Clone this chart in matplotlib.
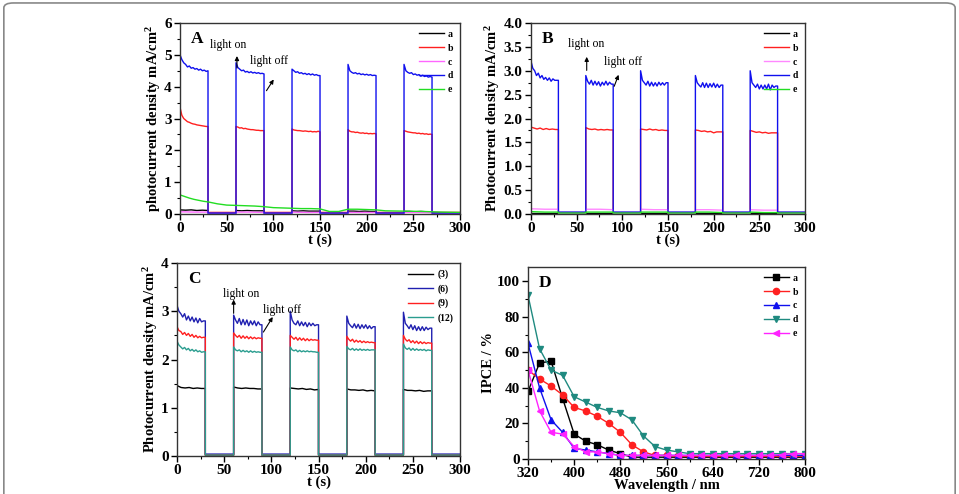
import numpy as np
import matplotlib
matplotlib.use("Agg")
import matplotlib.pyplot as plt
from matplotlib.ticker import AutoMinorLocator, FormatStrFormatter
from matplotlib.patches import FancyBboxPatch

plt.rcParams['font.family'] = ['Liberation Serif', 'DejaVu Serif']
plt.rcParams['font.weight'] = 'bold'
plt.rcParams['mathtext.default'] = 'regular'

# light on at 0, 60, 120, 180, 240 s; each on period lasts 30 s
cycle_starts = [0, 60, 120, 180, 240]
time_ticks = [0, 50, 100, 150, 200, 250, 300]

# ---- panel A (photocurrent, mA/cm2) ----
A_d = [[5.0, 4.85, 4.75, 4.7, 4.62, 4.65, 4.58, 4.6, 4.55, 4.57, 4.52, 4.55, 4.5, 4.52, 4.48, 4.5],
       [4.75, 4.6, 4.55, 4.5, 4.52, 4.46, 4.48, 4.44, 4.47, 4.43, 4.45, 4.42, 4.44, 4.41, 4.42, 4.4],
       [4.55, 4.5, 4.45, 4.47, 4.42, 4.44, 4.4, 4.42, 4.38, 4.41, 4.37, 4.4, 4.36, 4.38, 4.35, 4.35],
       [4.7, 4.5, 4.45, 4.42, 4.44, 4.4, 4.42, 4.38, 4.4, 4.37, 4.39, 4.36, 4.38, 4.35, 4.36, 4.35],
       [4.7, 4.5, 4.45, 4.42, 4.44, 4.38, 4.4, 4.36, 4.38, 4.33, 4.36, 4.32, 4.34, 4.3, 4.32, 4.3]]
A_b = [[3.35, 3.1, 3.0, 2.95, 2.9, 2.88, 2.85, 2.83, 2.82, 2.8, 2.79, 2.78, 2.77, 2.76, 2.75, 2.75],
       [2.75, 2.73, 2.7, 2.71, 2.68, 2.69, 2.67, 2.66, 2.65, 2.65, 2.64, 2.63, 2.63, 2.62, 2.62, 2.62],
       [2.67, 2.64, 2.63, 2.62, 2.62, 2.61, 2.6, 2.61, 2.6, 2.59, 2.6, 2.58, 2.59, 2.58, 2.6, 2.58],
       [2.65, 2.6, 2.58, 2.58, 2.56, 2.57, 2.55, 2.54, 2.55, 2.53, 2.54, 2.52, 2.53, 2.52, 2.53, 2.52],
       [2.62, 2.6, 2.58, 2.57, 2.56, 2.55, 2.55, 2.53, 2.54, 2.52, 2.53, 2.51, 2.52, 2.5, 2.51, 2.5]]
A_a = [[0.13, 0.12, 0.13, 0.11, 0.12, 0.11],
       [0.11, 0.1, 0.11, 0.1, 0.1, 0.1],
       [0.1, 0.09, 0.1, 0.09, 0.09, 0.09],
       [0.09, 0.09, 0.08, 0.09, 0.08, 0.08],
       [0.08, 0.08, 0.07, 0.08, 0.07, 0.07]]
A_c = [[0.07, 0.06, 0.06], [0.06, 0.06, 0.05], [0.06, 0.05, 0.05],
       [0.05, 0.05, 0.05], [0.05, 0.05, 0.04]]
A_off = {'a': 0.03, 'b': 0.05, 'c': 0.02, 'd': 0.03}
A_e_t = [0, 2, 5, 10, 15, 20, 25, 30, 35, 40, 50, 60, 70, 80, 90, 100, 110, 120, 130,
         140, 150, 155, 160, 170, 180, 190, 200, 210, 220, 240, 260, 280, 300]
A_e_y = [0.6, 0.58, 0.55, 0.5, 0.46, 0.43, 0.4, 0.38, 0.35, 0.32, 0.28, 0.27, 0.26, 0.25,
         0.23, 0.2, 0.19, 0.18, 0.17, 0.17, 0.16, 0.12, 0.08, 0.08, 0.15, 0.15, 0.14, 0.13,
         0.1, 0.09, 0.08, 0.06, 0.05]

# ---- panel B ----
B_d = [[3.2, 3.05, 3.0, 2.9, 2.95, 2.85, 2.9, 2.82, 2.86, 2.8, 2.85, 2.78, 2.83, 2.8, 2.8, 2.8],
       [2.9, 2.78, 2.72, 2.8, 2.7, 2.78, 2.7, 2.77, 2.68, 2.76, 2.7, 2.78, 2.7, 2.76, 2.72, 2.72],
       [3.0, 2.8, 2.75, 2.7, 2.78, 2.68, 2.76, 2.68, 2.75, 2.68, 2.76, 2.7, 2.75, 2.7, 2.75, 2.75],
       [2.9, 2.75, 2.7, 2.66, 2.75, 2.65, 2.74, 2.65, 2.73, 2.66, 2.74, 2.65, 2.72, 2.65, 2.7, 2.7],
       [3.0, 2.75, 2.7, 2.65, 2.72, 2.62, 2.7, 2.62, 2.7, 2.62, 2.72, 2.6, 2.7, 2.65, 2.68, 2.68]]
B_b = [[1.82, 1.8, 1.78, 1.8, 1.77, 1.79, 1.77, 1.78, 1.77, 1.77],
       [1.81, 1.78, 1.77, 1.78, 1.76, 1.77, 1.76, 1.77, 1.76, 1.76],
       [1.78, 1.77, 1.76, 1.78, 1.76, 1.77, 1.75, 1.76, 1.75, 1.75],
       [1.76, 1.75, 1.73, 1.74, 1.72, 1.73, 1.7, 1.72, 1.72, 1.72],
       [1.75, 1.73, 1.71, 1.72, 1.7, 1.71, 1.69, 1.7, 1.7, 1.7]]
B_c = [[0.11, 0.1, 0.1], [0.1, 0.1, 0.09], [0.1, 0.09, 0.09], [0.09, 0.09, 0.08], [0.09, 0.08, 0.08]]
B_e = [[0.05, 0.04, 0.04], [0.04, 0.04, 0.04], [0.04, 0.04, 0.04], [0.04, 0.04, 0.03], [0.04, 0.03, 0.03]]
B_a = [[0.02, 0.02], [0.02, 0.02], [0.02, 0.02], [0.02, 0.02], [0.02, 0.02]]
B_off = {'a': 0.01, 'b': 0.03, 'c': 0.02, 'd': 0.04, 'e': 0.02}

# ---- panel C (different deposition cycles) ----
C_6 = [[3.12, 3.0, 2.95, 2.88, 2.95, 2.82, 2.9, 2.8, 2.88, 2.78, 2.86, 2.76, 2.85, 2.78, 2.8, 2.8],
       [2.92, 2.82, 2.75, 2.85, 2.72, 2.83, 2.72, 2.82, 2.7, 2.8, 2.72, 2.8, 2.7, 2.78, 2.72, 2.72],
       [3.0, 2.82, 2.75, 2.72, 2.8, 2.7, 2.78, 2.7, 2.77, 2.68, 2.76, 2.7, 2.75, 2.7, 2.72, 2.72],
       [2.9, 2.75, 2.7, 2.66, 2.74, 2.65, 2.73, 2.64, 2.72, 2.65, 2.72, 2.64, 2.7, 2.64, 2.68, 2.68],
       [2.98, 2.75, 2.7, 2.64, 2.72, 2.62, 2.7, 2.6, 2.68, 2.6, 2.68, 2.6, 2.67, 2.62, 2.65, 2.65]]
C_9 = [[2.68, 2.6, 2.58, 2.52, 2.56, 2.5, 2.54, 2.48, 2.52, 2.46, 2.5, 2.45, 2.48, 2.45, 2.46, 2.46],
       [2.55, 2.5, 2.46, 2.5, 2.44, 2.49, 2.44, 2.48, 2.43, 2.47, 2.43, 2.46, 2.43, 2.45, 2.44, 2.44],
       [2.5, 2.46, 2.42, 2.46, 2.4, 2.45, 2.4, 2.44, 2.39, 2.43, 2.39, 2.42, 2.4, 2.41, 2.4, 2.4],
       [2.48, 2.42, 2.38, 2.42, 2.36, 2.4, 2.36, 2.39, 2.35, 2.38, 2.35, 2.37, 2.35, 2.36, 2.35, 2.35],
       [2.5, 2.42, 2.38, 2.41, 2.35, 2.39, 2.34, 2.38, 2.33, 2.37, 2.33, 2.36, 2.33, 2.35, 2.34, 2.34]]
C_12 = [[2.38, 2.3, 2.26, 2.22, 2.25, 2.2, 2.23, 2.18, 2.21, 2.17, 2.2, 2.16, 2.18, 2.15, 2.16, 2.16],
        [2.26, 2.2, 2.18, 2.2, 2.16, 2.19, 2.16, 2.18, 2.15, 2.18, 2.15, 2.17, 2.15, 2.16, 2.15, 2.15],
        [2.26, 2.2, 2.18, 2.2, 2.16, 2.19, 2.16, 2.18, 2.16, 2.18, 2.16, 2.17, 2.16, 2.16, 2.15, 2.15],
        [2.27, 2.22, 2.2, 2.23, 2.19, 2.22, 2.19, 2.22, 2.19, 2.21, 2.19, 2.21, 2.19, 2.2, 2.2, 2.2],
        [2.32, 2.24, 2.21, 2.24, 2.19, 2.23, 2.19, 2.22, 2.19, 2.21, 2.19, 2.21, 2.18, 2.2, 2.19, 2.19]]
C_3 = [[1.46, 1.42, 1.41, 1.42, 1.4, 1.41, 1.4, 1.4],
       [1.43, 1.41, 1.4, 1.41, 1.4, 1.4, 1.39, 1.39],
       [1.41, 1.4, 1.39, 1.4, 1.38, 1.39, 1.37, 1.38],
       [1.39, 1.37, 1.37, 1.36, 1.37, 1.35, 1.36, 1.35],
       [1.38, 1.36, 1.36, 1.35, 1.36, 1.34, 1.35, 1.35]]
C_off = {'3': 0.02, '6': 0.04, '9': 0.02, '12': 0.02}

# ---- panel D (IPCE) ----
wavelength = [320, 340, 360, 380, 400, 420, 440, 460, 480, 500, 520, 540, 560, 580, 600, 620,
              640, 660, 680, 700, 720, 740, 760, 780, 800]
ipce_a = [38, 54, 55, 34, 14, 10, 8, 5, 3, 1, 1, 1, 1, 1, 1, 1, 1, 1, 1, 1, 1, 1, 1, 1, 1]
ipce_b = [50, 45, 41, 36, 29, 27, 24, 20, 15, 8, 4, 2, 2, 1.5, 1.5, 1.5, 1.5, 1.5, 1.5, 1.5,
          1.5, 1.5, 1.5, 1.5, 1.5]
ipce_c = [65, 40, 22, 15, 6, 5, 4, 3, 2, 2, 2, 2, 2, 2, 2, 2, 2, 2, 2, 2, 2, 2, 2, 2, 2]
ipce_d = [92, 62, 50, 47, 35, 32, 29, 27, 26, 22, 13, 7, 5, 4, 3, 3, 3, 3, 3, 3, 3, 3, 3, 3, 3]
ipce_e = [50, 27, 15, 14, 7, 4, 4, 3, 2, 2, 2, 2, 2, 2, 2, 2, 2, 2, 2, 2, 2, 2, 2.5, 3, 3]


def square_wave(cycles, off, t_end=300):
    ts, ys = [], []
    for start, vals in zip(cycle_starts, cycles):
        ts.extend(np.linspace(start, start + 30, len(vals)))
        ys.extend(vals)
        ts.extend([start + 30, min(start + 60, t_end)])
        ys.extend([off, off])
    return np.array(ts), np.array(ys)


def style(ax, ylabel, xlabel, letter):
    ax.tick_params(direction='out', length=4, width=1, labelsize=11, pad=2)
    ax.tick_params(which='minor', direction='out', length=2, width=0.8)
    ax.tick_params(top=False, right=False)
    ax.xaxis.set_minor_locator(AutoMinorLocator(2))
    ax.yaxis.set_minor_locator(AutoMinorLocator(2))
    for sp in ax.spines.values():
        sp.set_color('#333333')
        sp.set_linewidth(1)
    ax.set_ylabel(ylabel, fontsize=10.5, fontweight='bold', labelpad=1)
    ax.set_xlabel(xlabel, fontsize=10.5, fontweight='bold', labelpad=-1)
    ax.text(0.04, 0.96, letter, transform=ax.transAxes, fontsize=12.5, fontweight='bold',
            va='top', ha='left')
    ax.legend(loc='upper right', frameon=False, fontsize=7, handlelength=2.6,
              labelspacing=0.5, borderaxespad=0.3, handletextpad=0.4)


def annot(ax, on_txt, on_tip, on_tail, off_txt, off_tip, off_tail):
    ap = dict(arrowstyle='-|>', lw=0.8, color='k', mutation_scale=6)
    ax.text(*on_txt, 'light on', fontsize=8.5, fontweight='normal')
    ax.annotate('', xy=on_tip, xytext=on_tail, arrowprops=ap)
    ax.text(*off_txt, 'light off', fontsize=8.5, fontweight='normal')
    ax.annotate('', xy=off_tip, xytext=off_tail, arrowprops=ap)


fig = plt.figure(figsize=(9.59, 4.94), dpi=100)
frame = FancyBboxPatch((0.004, -0.2), 0.992, 1.194, boxstyle='round,pad=0,rounding_size=0.01',
                       transform=fig.transFigure, fill=False, edgecolor='#888888', lw=1.2)
fig.patches.append(frame)

ylab = 'Photocurrent density mA/cm$^{2}$'

# A
axA = fig.add_axes([0.1877, 0.5668, 0.292, 0.3866])
t, y = square_wave(A_a, A_off['a']); axA.plot(t, y, color='black', lw=1, label='a')
t, y = square_wave(A_b, A_off['b']); axA.plot(t, y, color='#ff2020', lw=1, label='b')
t, y = square_wave(A_c, A_off['c']); axA.plot(t, y, color='#ff66ff', lw=1, label='c')
t, y = square_wave(A_d, A_off['d']); axA.plot(t, y, color='#1010ee', lw=1, label='d')
axA.plot(A_e_t, A_e_y, color='#22dd22', lw=1, label='e')
axA.set_xlim(0, 300); axA.set_ylim(0, 6)
axA.set_xticks(time_ticks)
axA.set_yticks([0, 1, 2, 3, 4, 5, 6])
style(axA, 'photocurrent density mA/cm$^{2}$', 't (s)', 'A')
annot(axA, (32, 5.2), (61, 5.05), (61, 4.5), (75, 4.7), (102, 4.3), (91, 3.8))

# B
axB = fig.add_axes([0.5537, 0.5668, 0.2857, 0.3866])
t, y = square_wave(B_a, B_off['a']); axB.plot(t, y, color='black', lw=1, label='a')
t, y = square_wave(B_b, B_off['b']); axB.plot(t, y, color='#ff2020', lw=1, label='b')
t, y = square_wave(B_c, B_off['c']); axB.plot(t, y, color='#ff88ff', lw=1, label='c')
t, y = square_wave(B_d, B_off['d']); axB.plot(t, y, color='#1010ee', lw=1, label='d')
t, y = square_wave(B_e, B_off['e']); axB.plot(t, y, color='#22dd22', lw=1, label='e')
axB.set_xlim(0, 300); axB.set_ylim(0, 4)
axB.set_xticks(time_ticks)
axB.set_yticks(np.arange(0, 4.01, 0.5))
axB.yaxis.set_major_formatter(FormatStrFormatter('%.1f'))
style(axB, ylab, 't (s)', 'B')
annot(axB, (40, 3.5), (61, 3.35), (61, 2.95), (80, 3.12), (97, 2.97), (90, 2.62))

# C
axC = fig.add_axes([0.1846, 0.0769, 0.2951, 0.3907])
t, y = square_wave(C_3, C_off['3']); axC.plot(t, y, color='black', lw=1, label='(3)')
t, y = square_wave(C_6, C_off['6']); axC.plot(t, y, color='#2020b0', lw=1, label='(6)')
t, y = square_wave(C_9, C_off['9']); axC.plot(t, y, color='#ff2020', lw=1, label='(9)')
t, y = square_wave(C_12, C_off['12']); axC.plot(t, y, color='#2a9d8f', lw=1, label='(12)')
axC.set_xlim(0, 300); axC.set_ylim(0, 4)
axC.set_xticks(time_ticks)
axC.set_yticks([0, 1, 2, 3, 4])
style(axC, ylab, 't (s)', 'C')
annot(axC, (49, 3.3), (60, 3.3), (60, 2.9), (91, 2.97), (103, 2.93), (90, 2.52))

# D
axD = fig.add_axes([0.5506, 0.0709, 0.2888, 0.3887])
mk = dict(lw=1, markersize=4.5)
axD.plot(wavelength, ipce_a, '-s', color='black', label='a', **mk)
axD.plot(wavelength, ipce_b, '-o', color='#ff2020', label='b', **mk)
axD.plot(wavelength, ipce_c, '-^', color='#1010ee', label='c', **mk)
axD.plot(wavelength, ipce_d, '-v', color='#1f8a80', label='d', **mk)
axD.plot(wavelength, ipce_e, '-<', color='#ff22ff', label='e', **mk)
axD.set_xlim(320, 800); axD.set_ylim(0, 108)
axD.set_xticks(np.arange(320, 801, 80))
axD.set_yticks(np.arange(0, 101, 20))
style(axD, 'IPCE / %', 'Wavelength / nm', 'D')

fig.savefig('out.png', dpi=100)
